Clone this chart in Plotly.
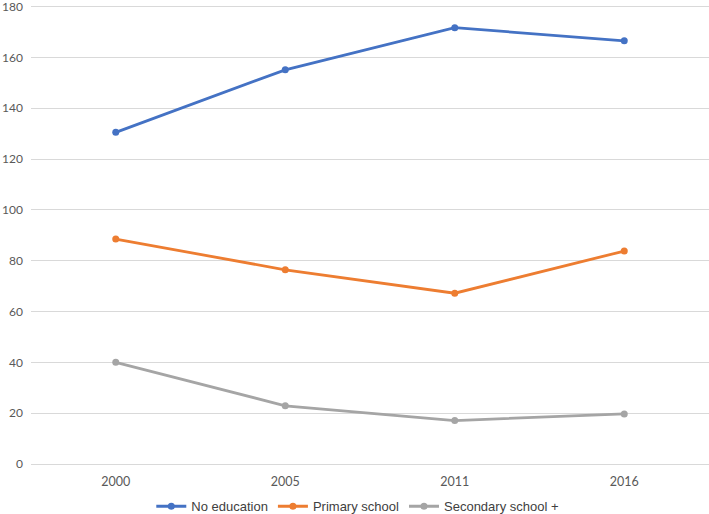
import plotly.graph_objects as go

years = ["2000", "2005", "2011", "2016"]
no_education = [130.5, 155.1, 171.7, 166.5]
primary_school = [88.5, 76.4, 67.2, 83.8]
secondary_school = [40.0, 22.9, 17.1, 19.7]
y_ticks = [0, 20, 40, 60, 80, 100, 120, 140, 160, 180]

series = [
    ("No education", no_education, "#4472C4"),
    ("Primary school", primary_school, "#ED7D31"),
    ("Secondary school +", secondary_school, "#A5A5A5"),
]

fig = go.Figure()
for name, vals, color in series:
    fig.add_trace(go.Scatter(
        x=years, y=vals, name=name, mode="lines+markers",
        line=dict(color=color, width=2.8),
        marker=dict(color=color, size=7),
        cliponaxis=False,
    ))

fig.update_layout(
    width=709, height=514,
    margin=dict(l=31, r=0, t=4, b=50, autoexpand=False),
    paper_bgcolor="white", plot_bgcolor="white",
    font=dict(family="Liberation Sans, Arial, sans-serif", color="#595959"),
    legend=dict(orientation="h", x=0.482, xanchor="center", y=-0.092, yanchor="middle",
                font=dict(size=13, color="#404040"), itemwidth=30, tracegroupgap=0),
    showlegend=True,
)
fig.update_xaxes(type="category", range=[-0.5, 3.5], showgrid=False, showline=False, zeroline=False,
                 ticks="", automargin=False, ticklabelstandoff=8,
                 tickfont=dict(family="Lato, Liberation Sans, sans-serif", size=12.5, color="#595959"))
fig.update_yaxes(range=[0, 181], tickvals=y_ticks, showgrid=True, gridcolor="#D9D9D9", gridwidth=1,
                 zeroline=True, zerolinecolor="#D9D9D9", zerolinewidth=1, showline=False, ticks="",
                 automargin=False, ticklabeloverflow="allow", ticklabelstandoff=7,
                 tickfont=dict(family="Lato, Liberation Sans, sans-serif", size=12, color="#595959"))

fig.write_html("out.html", config={"displayModeBar": False},
               post_script="document.body.style.margin='0';document.body.style.overflow='hidden';")
